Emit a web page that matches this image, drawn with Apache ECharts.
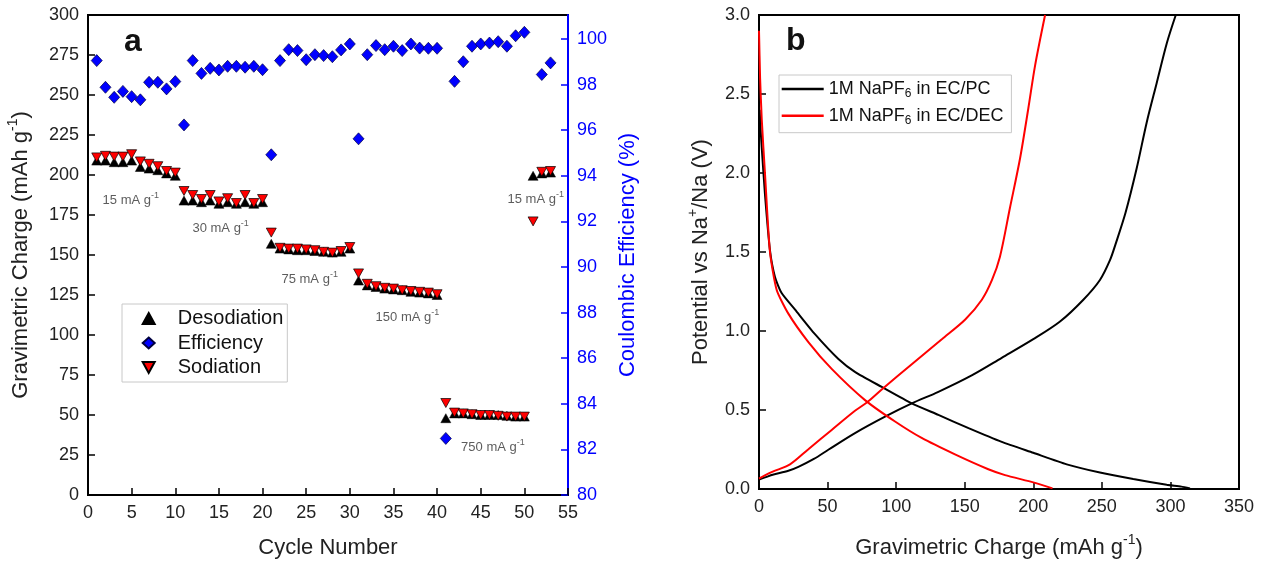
<!DOCTYPE html>
<html><head><meta charset="utf-8">
<script src="https://cdn.jsdelivr.net/npm/echarts@6/dist/echarts.min.js"></script>
<style>html,body{margin:0;padding:0;background:#fff}#c{width:1263px;height:568px}</style>
</head><body><div id="c"></div>
<script>
// ---- Panel a data ----
const cycles = [1,2,3,4,5,6,7,8,9,10,11,12,13,14,15,16,17,18,19,20,21,22,23,24,25,26,27,28,29,30,31,32,33,34,35,36,37,38,39,40,41,42,43,44,45,46,47,48,49,50,51,52,53];
const desodiation = [209,209,208,208,209,205,204,203,201,199.5,
  184,184,183,184,182,183,182,183,182,183,
  157,154,153.5,153,153,152.5,152,151.5,152,154,
  134,131,130,129,128.5,128,127,126.5,126,125,
  48,51,51,50.5,50,50,50,49.5,49,49,
  199.5,201,201.5];
const sodiation = [211,212,211.5,211.5,213,208.5,207,205.5,202.5,201.5,
  190,187.5,185,187.5,183.5,185.5,182.5,187.5,182.5,185,
  164,154.5,154,154,153.5,153,152,151.5,152.5,155,
  138.5,132,130.5,129.5,129,128,127.5,127,126.5,125.5,
  57.5,51.5,51,50.5,50,50,49.5,49,49,49,
  171,202,202.5];
const efficiency = [99.05,97.88,97.44,97.7,97.47,97.33,98.1,98.1,97.81,98.13,
  96.23,99.05,98.49,98.71,98.64,98.8,98.8,98.76,98.8,98.65,
  94.92,99.05,99.53,99.49,99.09,99.31,99.27,99.22,99.52,99.78,
  95.62,99.31,99.71,99.53,99.68,99.49,99.78,99.6,99.59,99.59,
  82.48,98.14,99.0,99.68,99.78,99.82,99.88,99.68,100.14,100.29,
  null,98.44,98.95];
const rateLabels = ['15 mA g','30 mA g','75 mA g','150 mA g','750 mA g','15 mA g'];
const rateLabelX = [4.9,15.2,25.4,36.6,46.4,51.3];
const rateLabelY = [184.4,166.7,134.8,111,29.8,185];

// ---- Panel b data ----
const pcDisX = [0.5,1,2,4.4,8,11.7,16.5,26.3,40.8,57.9,70.2,89.5,111.4,130.8,152.8,177,200,224.4,248.6,272.9,297.3,308,314.3];
const pcDisV = [2.40,2.30,2.16,1.86,1.51,1.34,1.24,1.135,0.98,0.823,0.74,0.646,0.542,0.469,0.385,0.298,0.229,0.156,0.104,0.063,0.027,0.015,0.004];
const pcChX = [0,5,10,21.4,28.7,40,50.8,70,91.9,111.4,130.8,155.1,177,200,219.5,236.5,248.6,256,260,267.3,275.4,282.7,290,297.3,303.9];
const pcChV = [0.06,0.075,0.09,0.115,0.14,0.19,0.25,0.354,0.458,0.542,0.615,0.719,0.83,0.948,1.06,1.198,1.323,1.45,1.55,1.75,2.03,2.32,2.57,2.82,3.0];
const decDisX = [0,0.8,2,4.4,8,12.9,21.4,36,53,77.3,99.2,118.6,142.9,167.2,179.4,200,214];
const decDisV = [2.9,2.6,2.34,1.99,1.5,1.26,1.11,0.93,0.76,0.5625,0.427,0.323,0.219,0.125,0.088,0.042,0.004];
const decChX = [0,5,10,22.6,36,53,70,79.3,89.5,111.4,133.3,150.4,162.5,169.9,175.7,183,190.3,196.4,201.3,208.6];
const decChV = [0.065,0.09,0.11,0.156,0.252,0.374,0.495,0.552,0.63,0.79,0.948,1.073,1.198,1.323,1.47,1.78,2.09,2.41,2.68,3.0];

const nameEC_PC = '1M NaPF6 in EC/PC';
const nameEC_DEC = '1M NaPF6 in EC/DEC';

const FONT = '"Liberation Sans", Arial, sans-serif';
const BLUE = '#0000ff';
const zip = (xs, ys) => xs.map((x, i) => [x, ys[i]]);
const supRich = (size) => ({ sup: { fontSize: size, lineHeight: size, verticalAlign: 'top' } });

function axisCommon(color) {
  return {
    axisLine: { show: true, onZero: false, lineStyle: { color: color, width: 2 } },
    axisTick: { show: true, inside: true, length: 7, lineStyle: { color: color, width: 1.5 } },
    splitLine: { show: false },
    axisLabel: { fontSize: 18, color: color === '#000' ? '#222' : color, fontFamily: FONT, margin: 9 }
  };
}

const chart = echarts.init(document.getElementById('c'), null, { renderer: 'canvas' });
const option = {
  animation: false,
  backgroundColor: '#fff',
  textStyle: { fontFamily: FONT },
  grid: [
    { left: 88, top: 15, width: 480, height: 480, show: true, borderColor: '#000', borderWidth: 2, backgroundColor: 'transparent' },
    { left: 759, top: 15, width: 480, height: 480, show: true, borderColor: '#000', borderWidth: 2, backgroundColor: 'transparent' }
  ],
  xAxis: [
    Object.assign(axisCommon('#000'), {
      gridIndex: 0, type: 'value', min: 0, max: 55, interval: 5,
      name: 'Cycle Number', nameLocation: 'middle', nameGap: 42,
      nameTextStyle: { fontSize: 22, color: '#222', fontFamily: FONT }
    }),
    Object.assign(axisCommon('#000'), {
      gridIndex: 1, type: 'value', min: 0, max: 350, interval: 50,
      name: 'Gravimetric Charge (mAh g{sup|-1})', nameLocation: 'middle', nameGap: 44,
      nameTextStyle: { fontSize: 22, color: '#222', fontFamily: FONT, lineHeight: 30, rich: supRich(14) }
    })
  ],
  yAxis: [
    Object.assign(axisCommon('#000'), {
      gridIndex: 0, type: 'value', min: 0, max: 300, interval: 25,
      name: 'Gravimetric Charge (mAh g{sup|-1})', nameLocation: 'middle', nameGap: 52,
      nameTextStyle: { fontSize: 22, color: '#222', fontFamily: FONT, lineHeight: 30, rich: supRich(14) }
    }),
    Object.assign(axisCommon(BLUE), {
      gridIndex: 0, type: 'value', position: 'right', min: 80, max: 101.05, interval: 2,
      name: 'Coulombic Efficiency (%)', nameLocation: 'middle', nameGap: 49,
      nameTextStyle: { fontSize: 22, color: BLUE, fontFamily: FONT }
    }),
    Object.assign(axisCommon('#000'), {
      gridIndex: 1, type: 'value', min: 0, max: 3, interval: 0.5,
      name: 'Potential vs Na{sup|+}/Na (V)', nameLocation: 'middle', nameGap: 43,
      nameTextStyle: { fontSize: 22, color: '#222', fontFamily: FONT, lineHeight: 30, rich: supRich(14) }
    })
  ],
  legend: [
    {
      data: ['Desodiation', 'Efficiency', 'Sodiation'],
      orient: 'vertical', left: 122, top: 304,
      itemWidth: 12, itemHeight: 11, itemGap: 4.5,
      padding: [4.5, 4, 4.5, 19.7],
      borderColor: '#c8c8c8', borderWidth: 1,
      textStyle: { fontSize: 20, color: '#111', fontFamily: FONT, lineHeight: 20, padding: [0, 0, 0, 18] },
      selectedMode: false
    },
    {
      data: [{ name: nameEC_PC, icon: 'rect' }, { name: nameEC_DEC, icon: 'rect' }],
      orient: 'vertical', left: 779, top: 75,
      itemWidth: 42, itemHeight: 2.5, itemGap: 4.7,
      padding: [3, 8, 6, 2.7],
      borderColor: '#c8c8c8', borderWidth: 1,
      formatter: (n) => n.replace('NaPF6', 'NaPF{sub|6}'),
      textStyle: { fontSize: 18, color: '#111', fontFamily: FONT, lineHeight: 22,
        rich: { sub: { fontSize: 12, lineHeight: 12, verticalAlign: 'bottom', fontFamily: FONT, color: '#111' } } },
      selectedMode: false
    }
  ],
  graphic: [
    { type: 'text', left: 124, top: 26, style: { text: 'a', fontSize: 32, fontWeight: 'bold', fill: '#111', fontFamily: FONT } },
    { type: 'text', left: 786, top: 25, style: { text: 'b', fontSize: 32, fontWeight: 'bold', fill: '#111', fontFamily: FONT } }
  ],
  series: [
    {
      name: 'Desodiation', type: 'scatter', xAxisIndex: 0, yAxisIndex: 0,
      symbol: 'triangle', symbolSize: [10, 9],
      itemStyle: { color: '#000', borderColor: '#000', borderWidth: 0.5, opacity: 1 },
      data: zip(cycles, desodiation), z: 3
    },
    {
      name: 'Efficiency', type: 'scatter', xAxisIndex: 0, yAxisIndex: 1,
      symbol: 'diamond', symbolSize: [11, 12],
      itemStyle: { color: BLUE, borderColor: '#000040', borderWidth: 0.7, opacity: 1 },
      data: zip(cycles, efficiency).filter(d => d[1] !== null), z: 3
    },
    {
      name: 'Sodiation', type: 'scatter', xAxisIndex: 0, yAxisIndex: 0,
      symbol: 'path://M0,0L10,0L5,9Z', symbolSize: [10, 9],
      itemStyle: { color: '#ff0000', borderColor: '#000', borderWidth: 0.7, opacity: 1 },
      data: zip(cycles, sodiation), z: 4
    },
    {
      name: 'rates', type: 'scatter', xAxisIndex: 0, yAxisIndex: 0,
      symbolSize: 0, silent: true, z: 5,
      data: rateLabelX.map((x, i) => ({ value: [x, rateLabelY[i]], label: { formatter: rateLabels[i] + '{sup|-1}' } })),
      label: { show: true, position: 'inside', fontSize: 13, color: '#333', fontFamily: FONT, lineHeight: 18,
        rich: { sup: { fontSize: 9, lineHeight: 9, verticalAlign: 'top', color: '#333', fontFamily: FONT } } }
    },
    {
      name: nameEC_PC, type: 'line', xAxisIndex: 1, yAxisIndex: 2, symbol: 'none',
      lineStyle: { color: '#000', width: 2 }, itemStyle: { color: '#000' },
      data: zip(pcDisX, pcDisV), smooth: 0.2
    },
    {
      name: nameEC_PC, type: 'line', xAxisIndex: 1, yAxisIndex: 2, symbol: 'none',
      lineStyle: { color: '#000', width: 2 }, itemStyle: { color: '#000' },
      data: zip(pcChX, pcChV), smooth: 0.3
    },
    {
      name: nameEC_DEC, type: 'line', xAxisIndex: 1, yAxisIndex: 2, symbol: 'none',
      lineStyle: { color: '#ff0000', width: 2 }, itemStyle: { color: '#ff0000' },
      data: zip(decDisX, decDisV), smooth: 0.2
    },
    {
      name: nameEC_DEC, type: 'line', xAxisIndex: 1, yAxisIndex: 2, symbol: 'none',
      lineStyle: { color: '#ff0000', width: 2 }, itemStyle: { color: '#ff0000' },
      data: zip(decChX, decChV), smooth: 0.3
    }
  ]
};
option.yAxis[1].axisLabel.showMaxLabel = false;
option.yAxis[2].axisLabel.formatter = (v) => v.toFixed(1);
chart.setOption(option);
</script>
</body></html>
